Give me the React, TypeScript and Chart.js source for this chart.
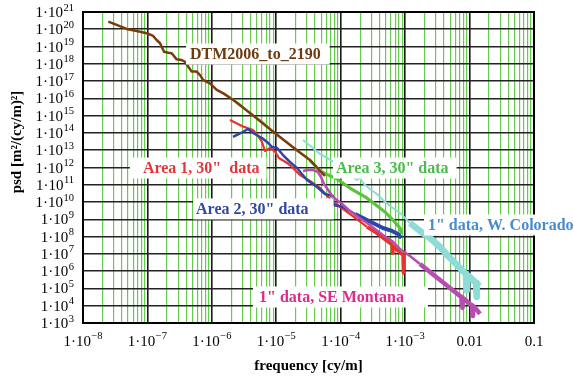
import { useEffect, useRef } from 'react';
import { Chart, registerables } from 'chart.js';

Chart.register(...registerables);

const SERIF = "'Liberation Serif', 'Times New Roman', serif";

// ---- axis ticks ----
const xDecades = [1e-8, 1e-7, 1e-6, 1e-5, 1e-4, 1e-3, 1e-2, 1e-1];
const xTickMain = ['1·10', '1·10', '1·10', '1·10', '1·10', '1·10', '0.01', '0.1'];
const xTickExp = ['−8', '−7', '−6', '−5', '−4', '−3', '', ''];
const xMinorSteps = [2, 3, 4, 5, 6, 7, 8, 9];
const yDecades = [1e3, 1e4, 1e5, 1e6, 1e7, 1e8, 1e9, 1e10, 1e11, 1e12, 1e13, 1e14, 1e15, 1e16, 1e17, 1e18, 1e19, 1e20, 1e21];
const yTickMain = yDecades.map(() => '1·10');
const yTickExp = ['3', '4', '5', '6', '7', '8', '9', '10', '11', '12', '13', '14', '15', '16', '17', '18', '19', '20', '21'];
const xTitle = 'frequency [cy/m]';
const yTitle = 'psd [m²/(cy/m)²]';

// ---- DTM2006_to_2190 ----
const dtmFreq = [2.47e-8, 3.33e-8, 4.76e-8, 6.81e-8, 9.75e-8, 1.21e-7, 1.39e-7, 1.57e-7, 1.81e-7, 2.11e-7, 2.38e-7, 2.84e-7, 3.40e-7, 3.83e-7, 4.31e-7, 4.86e-7, 5.82e-7, 6.55e-7, 7.36e-7, 9.35e-7, 1.19e-6, 1.51e-6, 2.15e-6, 3.91e-6, 7.10e-6, 1.14e-5, 2.07e-5, 3.33e-5, 5.70e-5];
const dtmPsd = [2.75e20, 1.78e20, 1.05e20, 7.94e19, 5.89e19, 4.27e19, 2.40e19, 1.55e19, 5.01e18, 4.37e18, 4.07e18, 1.82e18, 1.66e18, 1.32e18, 6.76e17, 3.55e17, 3.55e17, 2.24e17, 1.15e17, 7.41e16, 3.09e16, 1.95e16, 8.13e15, 1.43e15, 2.36e14, 5.84e13, 1.03e13, 2.72e12, 3.22e11];

// ---- Area 3, 30" data ----
const area3Freq = [1.78e-6, 2.74e-6, 3.91e-6, 6.00e-6, 8.57e-6, 1.23e-5, 1.75e-5, 2.33e-5, 3.33e-5, 4.76e-5, 8.67e-5, 1.39e-4, 2.53e-4, 3.53e-4, 4.86e-4, 6.47e-4, 8.32e-4, 8.83e-4];
const area3Psd = [1.38e16, 4.75e15, 1.26e15, 4.90e14, 1.29e14, 4.47e13, 1.54e13, 6.92e12, 2.55e12, 6.29e11, 2.19e11, 6.46e10, 1.74e10, 6.76e9, 2.69e9, 9.12e8, 3.16e8, 1.41e8];

// ---- Area 1, 30" data ----
const area1Freq = [1.91e-6, 3.04e-6, 4.35e-6, 5.20e-6, 6.00e-6, 6.68e-6, 7.98e-6, 9.55e-6, 1.10e-5, 1.47e-5, 1.75e-5, 2.33e-5, 3.33e-5, 4.76e-5, 6.82e-5, 1.08e-4, 1.67e-4, 2.56e-4, 3.40e-4, 4.53e-4, 5.82e-4, 6.25e-4, 6.37e-4, 6.47e-4, 7.48e-4, 9.27e-4, 9.42e-4];
const area1Psd = [5.62e14, 2.36e14, 1.48e14, 6.67e13, 3.00e13, 9.02e12, 1.35e13, 8.45e12, 3.56e12, 1.83e12, 1.07e12, 3.69e11, 1.66e11, 6.53e10, 1.51e10, 3.98e9, 1.20e9, 3.61e8, 1.86e8, 8.34e7, 4.28e7, 3.29e7, 1.13e7, 2.87e7, 1.69e7, 8.65e6, 7.87e5];

// ---- Area 2, 30" data ----
const area2Freq = [2.13e-6, 2.83e-6, 3.64e-6, 4.35e-6, 6.00e-6, 7.18e-6, 8.57e-6, 1.03e-5, 1.27e-5, 1.63e-5, 2.09e-5, 3.00e-5, 4.29e-5, 5.70e-5, 7.59e-5, 7.73e-5, 1.08e-4, 1.67e-4, 2.56e-4, 3.40e-4, 4.53e-4, 6.25e-4, 7.74e-4, 8.77e-4];
const area2Psd = [5.84e13, 9.95e13, 1.69e14, 9.95e13, 5.11e13, 3.00e13, 1.54e13, 1.35e13, 5.28e12, 2.08e12, 9.37e11, 1.90e11, 7.45e10, 2.94e10, 2.24e10, 6.76e9, 5.19e9, 2.04e9, 9.18e8, 5.38e8, 3.16e8, 2.12e8, 1.42e8, 8.34e7];

// ---- 1" data, SE Montana ----
const montFreq = [2.60e-5, 3.10e-5, 3.72e-5, 4.44e-5, 4.94e-5, 5.51e-5, 7.59e-5, 1.05e-4, 1.39e-4, 1.85e-4, 2.56e-4, 3.40e-4, 4.53e-4, 6.25e-4, 8.32e-4, 1.19e-3, 1.70e-3, 2.43e-3, 3.48e-3, 4.97e-3, 7.10e-3, 7.62e-3, 7.76e-3, 7.91e-3, 1.01e-2, 1.09e-2, 1.11e-2, 1.13e-2, 1.26e-2, 1.45e-2];
const montPsd = [6.29e11, 7.18e11, 7.18e11, 5.50e11, 2.82e11, 1.11e11, 1.97e10, 7.74e9, 3.05e9, 1.37e9, 6.15e8, 2.77e8, 1.24e8, 5.60e7, 1.93e7, 7.59e6, 2.61e6, 8.99e5, 3.10e5, 1.07e5, 3.67e4, 3.21e4, 7.41e3, 2.81e4, 1.26e4, 1.11e4, 2.56e3, 9.7e3, 6.49e3, 3.33e3];

// ---- 1" data, W. Colorado ----
const colFreq = [2.60e-5, 3.10e-5, 3.72e-5, 4.76e-5, 6.12e-5, 7.33e-5, 9.75e-5, 1.30e-4, 1.77e-4, 1.99e-4, 2.30e-4, 2.84e-4, 3.66e-4, 4.53e-4, 5.82e-4, 8.32e-4, 1.19e-3, 1.70e-3, 2.43e-3, 3.48e-3, 4.97e-3, 7.10e-3, 8.79e-3, 8.95e-3, 9.12e-3, 1.01e-2, 1.26e-2, 1.28e-2, 1.30e-2, 1.45e-2];
const colPsd = [3.91e13, 2.30e13, 1.35e13, 6.05e12, 3.56e12, 2.38e12, 1.07e12, 4.82e11, 1.90e11, 2.48e11, 1.11e11, 5.71e10, 2.94e10, 1.32e10, 5.93e9, 2.33e9, 6.15e8, 2.12e8, 8.34e7, 2.51e7, 5.80e6, 1.53e6, 6.9e5, 8.1e4, 6.0e5, 4.61e5, 2.09e5, 3.21e4, 1.82e5, 1.39e5];

// ---- in-plot labels (anchored in data coordinates) ----
const plotLabels = [
  { text: 'DTM2006_to_2190', color: '#6e3b10', fx: 4.58e-7, py: 3.7e18, padL: 4, padR: 9 },
  { text: 'Area 1, 30"  data', color: '#e2373a', fx: 8.5e-8, py: 9.3e11, padL: 13, padR: 7 },
  { text: 'Area 2, 30" data', color: '#33489e', fx: 5.68e-7, py: 4.0e9, padL: 3, padR: 25 },
  { text: 'Area 3, 30" data', color: '#4cbb4c', fx: 8.45e-5, py: 9.3e11, padL: 3, padR: 8 },
  { text: '1" data, W. Colorado', color: '#4a8bcb', fx: 2.26e-3, py: 4.7e8, padL: 4, padR: 10 },
  { text: '1" data, SE Montana', color: '#dd2a8c', fx: 5.4e-6, py: 3.2e4, padL: 6, padR: 24 },
];

function pairs(xs: number[], ys: number[]) {
  return xs.map((x, i) => ({ x, y: ys[i] }));
}

const MAIN_FONT = `15px ${SERIF}`;
const EXP_FONT = `10.5px ${SERIF}`;

const decorPlugin = {
  id: 'decor',
  afterDatasetsDraw(chart: any) {
    const { ctx, chartArea } = chart;
    const xs = chart.scales.x;
    const ys = chart.scales.y;
    ctx.save();
    // frame
    ctx.strokeStyle = '#000';
    ctx.lineWidth = 2;
    ctx.strokeRect(chartArea.left, chartArea.top, chartArea.right - chartArea.left, chartArea.bottom - chartArea.top);
    // in-plot labels
    ctx.font = `bold 16px ${SERIF}`;
    ctx.textBaseline = 'middle';
    ctx.textAlign = 'left';
    for (const l of plotLabels) {
      const px = xs.getPixelForValue(l.fx);
      const cy = ys.getPixelForValue(l.py);
      const w = ctx.measureText(l.text).width;
      ctx.fillStyle = '#fff';
      ctx.fillRect(px - l.padL, cy - 10.5, w + l.padL + l.padR, 21);
      ctx.fillStyle = l.color;
      ctx.fillText(l.text, px, cy + 1);
    }
    ctx.restore();
  },
  afterDraw(chart: any) {
    const { ctx, chartArea } = chart;
    const xs = chart.scales.x;
    const ys = chart.scales.y;
    ctx.save();
    ctx.fillStyle = '#000';
    ctx.textBaseline = 'alphabetic';
    ctx.textAlign = 'left';
    // y tick labels (right aligned)
    const yRight = chartArea.left - 9;
    yDecades.forEach((v, i) => {
      const gy = ys.getPixelForValue(v);
      ctx.font = EXP_FONT;
      const we = ctx.measureText(yTickExp[i]).width;
      ctx.font = MAIN_FONT;
      const wm = ctx.measureText(yTickMain[i]).width;
      ctx.fillText(yTickMain[i], yRight - we - wm - 0.5, gy + 5);
      ctx.font = EXP_FONT;
      ctx.fillText(yTickExp[i], yRight - we, gy - 1.5);
    });
    // x tick labels (centred)
    const xBase = chartArea.bottom + 23;
    xDecades.forEach((v, i) => {
      const gx = xs.getPixelForValue(v);
      ctx.font = EXP_FONT;
      const we = ctx.measureText(xTickExp[i]).width;
      ctx.font = MAIN_FONT;
      const wm = ctx.measureText(xTickMain[i]).width;
      const start = gx - (wm + we + (we ? 0.5 : 0)) / 2;
      ctx.fillText(xTickMain[i], start, xBase);
      if (xTickExp[i]) {
        ctx.font = EXP_FONT;
        ctx.fillText(xTickExp[i], start + wm + 0.5, xBase - 7);
      }
    });
    // axis titles
    ctx.font = `bold 15px ${SERIF}`;
    ctx.textAlign = 'center';
    ctx.textBaseline = 'middle';
    ctx.fillText(xTitle, (chartArea.left + chartArea.right) / 2, 366);
    ctx.translate(17, 142);
    ctx.rotate(-Math.PI / 2);
    ctx.fillText(yTitle, 0, 0);
    ctx.restore();
  },
};

export default function App() {
  const ref = useRef<HTMLCanvasElement>(null);

  useEffect(() => {
    const xTicks: any[] = [];
    xDecades.forEach((d, i) => {
      xTicks.push({ value: d, major: true });
      if (i < xDecades.length - 1) xMinorSteps.forEach((m) => xTicks.push({ value: m * d, major: false }));
    });
    const yTicks = yDecades.map((d) => ({ value: d, major: true }));

    const chart = new Chart(ref.current as HTMLCanvasElement, {
      type: 'line',
      data: {
        datasets: [
          {
            label: 'DTM2006_to_2190', data: pairs(dtmFreq, dtmPsd), borderColor: '#7a3c08', borderWidth: 2.5,
            pointRadius: 0, order: 0, borderJoinStyle: 'round',
          },
          {
            label: '1" data, SE Montana', data: pairs(montFreq, montPsd), borderColor: '#b94cb0', borderWidth: 2.5,
            pointRadius: 0, order: 1, borderJoinStyle: 'round',
            segment: { borderWidth: (c: any) => (c.p0.parsed.x > 1.5e-3 ? 4.5 : 2.5) },
          },
          {
            label: 'Area 2, 30" data', data: pairs(area2Freq, area2Psd), borderColor: '#2e44a8', borderWidth: 2.5,
            pointRadius: 0, order: 2, borderJoinStyle: 'round',
            segment: { borderWidth: (c: any) => (c.p0.parsed.x > 1.5e-4 ? 4 : 2.5) },
          },
          {
            label: 'Area 1, 30" data', data: pairs(area1Freq, area1Psd), borderColor: '#e8322c', borderWidth: 2.5,
            pointRadius: 0, order: 3, borderJoinStyle: 'round',
            segment: { borderWidth: (c: any) => (c.p0.parsed.x > 2e-4 ? 3.5 : 2.2) },
          },
          {
            label: 'Area 3, 30" data', data: pairs(area3Freq, area3Psd), borderColor: '#5cc43c', borderWidth: 3,
            pointRadius: 0, order: 4, borderJoinStyle: 'round',
            segment: {
              borderColor: (c: any) => (c.p0.parsed.x < 2.5e-5 ? '#8fd87c' : '#5cc43c'),
              borderWidth: (c: any) => (c.p0.parsed.x < 2.5e-5 ? 1.6 : 3.2),
            },
          },
          {
            label: '1" data, W. Colorado', data: pairs(colFreq, colPsd), borderColor: '#8edcd6', borderWidth: 2,
            pointRadius: 0, order: 5, borderJoinStyle: 'round',
            segment: { borderWidth: (c: any) => (c.p0.parsed.x > 1.1e-3 ? 6.5 : 2) },
          },
        ],
      },
      options: {
        responsive: false,
        animation: false,
        layout: { padding: { top: 12, right: 40, left: 0, bottom: 0 } },
        plugins: { legend: { display: false }, tooltip: { enabled: false } },
        scales: {
          x: {
            type: 'logarithmic',
            min: 1e-8,
            max: 0.1,
            afterBuildTicks: (s: any) => { s.ticks = xTicks.map((t) => ({ ...t })); },
            afterFit: (s: any) => { s.height = 57; },
            grid: {
              drawTicks: false,
              color: (c: any) => (c.tick && c.tick.major ? '#1a1a1a' : '#66cc4c'),
              lineWidth: (c: any) => (c.tick && c.tick.major ? 1.6 : 1.2),
            },
            border: { display: true, color: '#000', width: 2 },
            ticks: { display: false, autoSkip: false },
            title: { display: false },
          },
          y: {
            type: 'logarithmic',
            min: 1e3,
            max: 1e21,
            afterBuildTicks: (s: any) => { s.ticks = yTicks.map((t) => ({ ...t })); },
            afterFit: (s: any) => { s.width = 83; },
            grid: { drawTicks: false, color: '#222', lineWidth: 1.6 },
            border: { display: true, color: '#000', width: 2 },
            ticks: { display: false, autoSkip: false },
            title: { display: false },
          },
        },
      } as any,
      plugins: [decorPlugin],
    });
    return () => chart.destroy();
  }, []);

  return (
    <div style={{ position: 'fixed', left: 0, top: 0, width: 574, height: 380, background: '#fff' }}>
      <canvas ref={ref} width={574} height={380} style={{ display: 'block' }} />
    </div>
  );
}
